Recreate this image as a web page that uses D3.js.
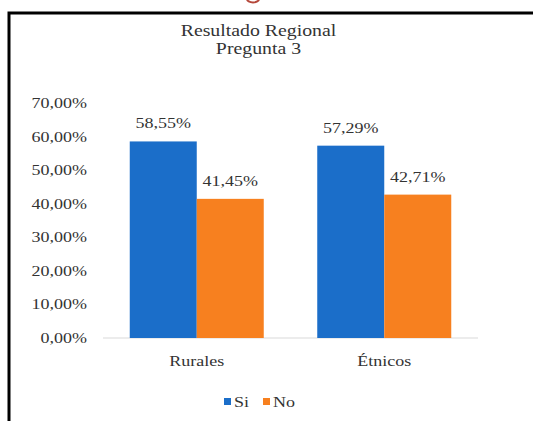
<!DOCTYPE html>
<html><head><meta charset="utf-8">
<script src="https://cdn.jsdelivr.net/npm/d3@7"></script>
<style>body{margin:0;background:#fff}svg{display:block}</style>
</head><body>
<svg id="c" width="533" height="421" style='font-family:"Liberation Serif"'></svg>
<script>
const categories = ["Rurales", "Étnicos"];
const seriesNames = ["Si", "No"];
const siValues = [58.55, 57.29];
const noValues = [41.45, 42.71];
const yTicks = [0, 10, 20, 30, 40, 50, 60, 70];
const titleLines = ["Resultado Regional", "Pregunta 3"];
const colors = ["#1b6ec9", "#f7801f"];

const svg = d3.select("#c");
const SX = 1.2;

function stext(g, x, y, str, size, anchor, fill) {
  const t = g.append("text").attr("x", x).attr("y", y).attr("text-anchor", anchor)
    .style("font-family", '"Liberation Serif"')
    .style("font-size", size + "px").attr("fill", fill || "#333").text(str);
  const w = t.node().getComputedTextLength();
  if (w > 0) t.attr("textLength", w * SX).attr("lengthAdjust", "spacingAndGlyphs");
  return t;
}

// red fragment at top (bottom of a cut-off heading glyph)
svg.append("ellipse").attr("cx", 253).attr("cy", -1).attr("rx", 6).attr("ry", 3.5)
  .attr("fill", "none").attr("stroke", "#b5473a").attr("stroke-width", 2);

// frame
svg.append("path").attr("d", "M9,421 V13 H533").attr("fill", "none")
  .attr("stroke", "#000").attr("stroke-width", 3);

// title
stext(svg, 258.5, 36, titleLines[0], 16.5, "middle");
stext(svg, 258.5, 54, titleLines[1], 16.5, "middle");

const x0 = d3.scaleBand().domain(categories).range([103, 478]).paddingInner(0).paddingOuter(0);
const y = d3.scaleLinear().domain([0, 70]).range([338, 103]);
const x1 = d3.scaleBand().domain(seriesNames).range([0, 134]);

// y axis labels
yTicks.forEach(v => {
  stext(svg, 87, y(v) + 5, d3.format(".2f")(v).replace(".", ",") + "%", 15, "end");
});

// axis baseline
svg.append("line").attr("x1", 103).attr("x2", 478).attr("y1", y(0)).attr("y2", y(0))
  .attr("stroke", "#d9d9d9").attr("stroke-width", 1);

const data = categories.map((c, i) => ({ cat: c, vals: [siValues[i], noValues[i]] }));
const groups = svg.selectAll("g.grp").data(data).enter().append("g")
  .attr("transform", d => `translate(${x0(d.cat) + (x0.bandwidth() - 134) / 2},0)`);
groups.selectAll("rect").data(d => d.vals.map((v, j) => ({ v, s: seriesNames[j], j })))
  .enter().append("rect")
  .attr("x", d => x1(d.s)).attr("width", x1.bandwidth())
  .attr("y", d => y(d.v)).attr("height", d => y(0) - y(d.v))
  .attr("fill", d => colors[d.j]);
groups.each(function (d) {
  const g = d3.select(this);
  d.vals.forEach((v, j) => {
    stext(g, x1(seriesNames[j]) + x1.bandwidth() / 2, y(v) - 13,
      d3.format(".2f")(v).replace(".", ",") + "%", 15, "middle");
  });
});

// category labels
categories.forEach(c => stext(svg, x0(c) + x0.bandwidth() / 2, 366, c, 15, "middle"));

// legend
const leg = [{ n: seriesNames[0], x: 224, tx: 234 }, { n: seriesNames[1], x: 263, tx: 273 }];
leg.forEach((l, j) => {
  svg.append("rect").attr("x", l.x).attr("y", 398).attr("width", 7).attr("height", 7).attr("fill", colors[j]);
  stext(svg, l.tx, 407, l.n, 15, "start");
});
</script>
</body></html>
